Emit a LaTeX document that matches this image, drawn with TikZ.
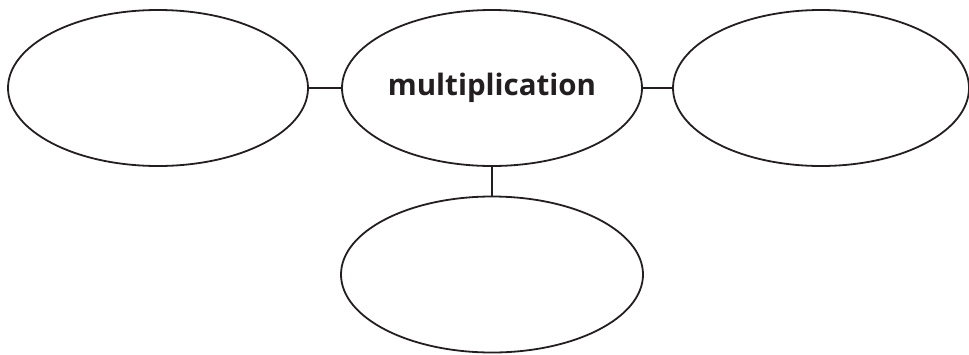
\documentclass[tikz,border=0pt]{standalone}
\usepackage{fontspec}
\setmainfont{Open Sans}
\usetikzlibrary{shapes.geometric}
\definecolor{ink}{HTML}{231F20}
\begin{document}
\begin{tikzpicture}[x=1pt,y=-1pt,
  bubble/.style={ellipse, draw=ink, line width=1.8pt, inner sep=0pt,
    minimum width=300pt, minimum height=156pt},
  link/.style={draw=ink, line width=1.8pt}]
\useasboundingbox (0,0) rectangle (969,354);
\node[bubble] (left) at (158,88) {};
\node[bubble, font=\fontsize{29.5}{36}\selectfont\bfseries, text=ink] (mid) at (492,88) {multiplication};
\node[bubble, minimum width=296pt] (right) at (821,88) {};
\node[bubble, minimum width=302pt] (bottom) at (492,274.5) {};
\draw[link] (left.east) -- (mid.west);
\draw[link] (mid.east) -- (right.west);
\draw[link] (mid.south) -- (bottom.north);
\end{tikzpicture}
\end{document}
